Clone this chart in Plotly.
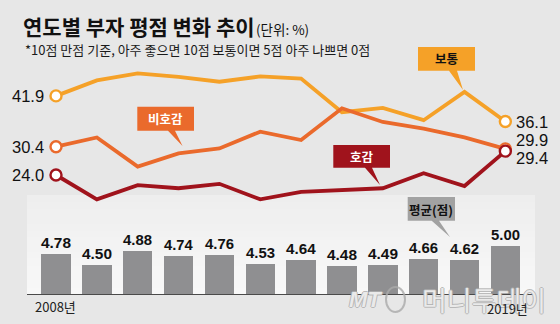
import plotly.graph_objects as go

# ---------------- data ----------------
years = list(range(2008, 2020))
normal = [41.9, 45.4, 47.0, 46.2, 45.1, 46.3, 45.8, 38.2, 39.2, 36.4, 42.8, 36.1]     # 보통
dislike = [30.4, 32.5, 25.9, 28.9, 30.0, 33.8, 31.9, 39.1, 36.0, 34.5, 32.5, 29.9]    # 비호감
like = [24.0, 18.5, 21.7, 21.0, 22.0, 18.5, 20.2, 20.6, 21.0, 24.4, 21.5, 29.4]       # 호감
avg_score = [4.78, 4.50, 4.88, 4.74, 4.76, 4.53, 4.64, 4.48, 4.49, 4.66, 4.62, 5.00]  # 평균(점)

title_text = "연도별 부자 평점 변화 추이"
unit_text = "(단위: %)"
note_text = "*10점 만점 기준, 아주 좋으면 10점 보통이면 5점 아주 나쁘면 0점"
series_names = ["보통", "비호감", "호감"]
avg_name = "평균(점)"
first_label = "2008년"
last_label = "2019년"

# ---------------- styling ----------------
W, H = 560, 324
BG = "#e7e7e7"
C_NORMAL = "#f5a128"
C_DISLIKE = "#ea6a2c"
C_LIKE = "#a0131c"
C_BAR = "#8f8f91"
BASE = 3.72
NUM_FONT = "Liberation Sans Narrow, Arial Narrow, Liberation Sans, Arial"
KR_FONT = "Noto Sans CJK KR, Noto Sans, sans-serif"


def px(x):
    return x / W


def py(y):
    return 1 - y / H


fig = go.Figure()

# bars (average score)
fig.add_trace(go.Bar(
    x=years, y=[v - BASE for v in avg_score], base=BASE, yaxis="y2",
    width=0.722, marker=dict(color=C_BAR, line=dict(width=0)),
    customdata=avg_score, texttemplate="%{customdata:.2f}",
    textposition="outside", cliponaxis=False,
    textfont=dict(family=NUM_FONT, size=19, color="#111", weight="bold"),
    hoverinfo="skip", showlegend=False,
))

for vals, col in [(normal, C_NORMAL), (dislike, C_DISLIKE), (like, C_LIKE)]:
    fig.add_trace(go.Scatter(
        x=years, y=vals, mode="lines", line=dict(color=col, width=3.8),
        hoverinfo="skip", showlegend=False, cliponaxis=False,
    ))
for vals, col in [(normal, C_NORMAL), (dislike, C_DISLIKE), (like, C_LIKE)]:
    fig.add_trace(go.Scatter(
        x=[years[0], years[-1]], y=[vals[0], vals[-1]], mode="markers",
        marker=dict(size=11, color="white", line=dict(color=col, width=2.4)),
        hoverinfo="skip", showlegend=False, cliponaxis=False,
    ))

shapes = []
# lighter bar panel (stepped gradient)
top, bot = 195, 294.3
n = 14
c0, c1 = (238, 238, 238), (248, 248, 248)
for i in range(n):
    t = i / (n - 1)
    c = tuple(int(round(c0[k] + (c1[k] - c0[k]) * t)) for k in range(3))
    y0 = top + (bot - top) * i / n
    y1 = top + (bot - top) * (i + 1) / n
    shapes.append(dict(type="rect", xref="paper", yref="paper",
                       x0=px(27), x1=px(535), y0=py(y1 + 0.5), y1=py(y0),
                       fillcolor="rgb(%d,%d,%d)" % c, line=dict(width=0), layer="below"))
shapes.append(dict(type="line", xref="paper", yref="paper", x0=px(27), x1=px(535),
                   y0=py(294.5), y1=py(294.5), line=dict(color="#4a4a4a", width=1), layer="below"))


def callout(box, tail, color):
    x0, y0, x1, y1 = box
    bx0, bx1, tx, ty = tail
    path = (f"M {px(x0)},{py(y0)} L {px(x1)},{py(y0)} L {px(x1)},{py(y1)} "
            f"L {px(bx1)},{py(y1)} L {px(tx)},{py(ty)} L {px(bx0)},{py(y1)} "
            f"L {px(x0)},{py(y1)} Z")
    shapes.append(dict(type="path", xref="paper", yref="paper", path=path,
                       fillcolor=color, line=dict(width=0), layer="above"))


callout((418, 47, 475, 70.7), (449, 457, 463, 90), C_NORMAL)
callout((137.3, 106.7, 194, 130.7), (168, 175, 182.5, 146), C_DISLIKE)
callout((333.3, 145, 390, 167.7), (365, 372, 380, 185), C_LIKE)
callout((407.7, 197, 455, 220.7), (431.7, 439, 450, 237), "#a2a2a2")

ann = []


def txt(x, y, s, size, color="#111", bold=False, family=KR_FONT, xanchor="center", italic=False, **kw):
    font = dict(family=family, size=size, color=color, weight="bold" if bold else "normal")
    if italic:
        font["style"] = "italic"
    font.update(kw.pop("fontextra", {}))
    ann.append(dict(xref="paper", yref="paper", x=px(x), y=py(y), text=s, showarrow=False,
                    xanchor=xanchor, yanchor="middle", font=font, **kw))


# titles
txt(21, 26, f"<b>{title_text}</b>", 21, xanchor="left")
txt(254, 29.5, unit_text, 13.5, xanchor="left")
txt(23, 49, note_text, 13, color="#1a1a1a", xanchor="left")

# callout labels
txt(446.5, 58.5, f"<b>{series_names[0]}</b>", 12.5, color="#111")
txt(165.7, 118.7, f"<b>{series_names[1]}</b>", 12.5, color="white")
txt(361.7, 156.3, f"<b>{series_names[2]}</b>", 12.5, color="white")
txt(431.3, 209, f"<b>{avg_name}</b>", 12.5, color="#111")

# year labels
txt(33, 306, first_label, 13, color="#222", xanchor="left")

# watermark
wm_font = dict(shadow="1px 0 #b0b0b0, -1px 0 #b0b0b0, 0 1px #b0b0b0, 0 -1px #b0b0b0")
txt(365, 299, "<b>MT</b>", 22, color="rgba(245,245,245,0.85)", family="Liberation Sans, Arial",
    italic=True, fontextra=wm_font)
shapes.append(dict(type="circle", xref="paper", yref="paper", x0=px(386), x1=px(405),
                   y0=py(312), y1=py(287), line=dict(color="rgba(170,170,170,0.8)", width=2),
                   fillcolor="rgba(0,0,0,0)", layer="above"))
txt(484, 299, "머니투데이", 27, color="rgba(245,245,245,0.85)", fontextra=wm_font)

txt(485, 308, last_label, 13, color="#222", xanchor="left")

# end-point value labels (data coordinates)
for vals in (normal, dislike, like):
    ann.append(dict(x=years[0], y=vals[0], xref="x", yref="y", text=f"{vals[0]:.1f}",
                    showarrow=False, xanchor="right", yanchor="middle", xshift=-10,
                    font=dict(family="Liberation Sans, Arial", size=16.5, color="#111")))
for vals, dy in [(normal, 0), (dislike, 9), (like, -7)]:
    ann.append(dict(x=years[-1], y=vals[-1], xref="x", yref="y", text=f"{vals[-1]:.1f}",
                    showarrow=False, xanchor="left", yanchor="middle", xshift=9, yshift=dy,
                    font=dict(family="Liberation Sans, Arial", size=16.5, color="#111")))

fig.update_layout(
    width=W, height=H, margin=dict(l=0, r=0, t=0, b=0),
    paper_bgcolor=BG, plot_bgcolor="rgba(0,0,0,0)",
    xaxis=dict(range=[2008 - 56 / 40.85, 2008 + 504 / 40.85], visible=False, fixedrange=True),
    yaxis=dict(range=[24 - 149 / 4.42, 24 + 175 / 4.42], visible=False, fixedrange=True),
    yaxis2=dict(range=[BASE - 29.7 / 37.6, BASE + 294.3 / 37.6], visible=False,
                overlaying="y", fixedrange=True),
    shapes=shapes, annotations=ann, showlegend=False, bargap=0,
)

fig.write_html("out.html", config={"displayModeBar": False})
